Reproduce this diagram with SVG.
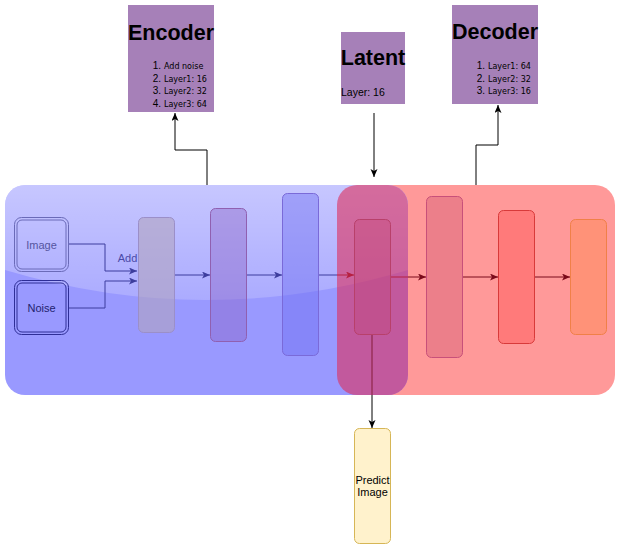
<svg xmlns="http://www.w3.org/2000/svg" width="622" height="550" viewBox="0 0 622 550">
<style>
  .title { font-family: "Liberation Sans", Arial, sans-serif; font-weight: bold; font-size: 21.5px; fill: #000; text-anchor: middle; }
  .num { font-family: "Liberation Sans", Arial, sans-serif; font-size: 10px; fill: #000; text-anchor: end; }
  .item { font-family: "DejaVu Sans", Verdana, sans-serif; font-size: 8px; fill: #000; }
  .lbl { font-family: "Liberation Sans", Arial, sans-serif; font-size: 11px; text-anchor: middle; }
  .topbox { fill: #a680b8; }
  .enc { stroke: #3d3d9e; stroke-width: 1; fill: none; }
  .dec { stroke: #7a0a1a; stroke-width: 1; fill: none; }
  .blk { stroke: #000; stroke-width: 1; fill: none; }
</style>
<defs>
  <marker id="ab" markerWidth="10" markerHeight="10" refX="8" refY="3.5" orient="auto" markerUnits="userSpaceOnUse">
    <path d="M0,0 L8,3.5 L0,7 L2,3.5 Z" fill="#000"/>
  </marker>
  <marker id="au" markerWidth="10" markerHeight="10" refX="8" refY="3.5" orient="auto" markerUnits="userSpaceOnUse">
    <path d="M0,0 L8,3.5 L0,7 L2,3.5 Z" fill="#3d3d9e"/>
  </marker>
  <marker id="ar" markerWidth="10" markerHeight="10" refX="8" refY="3.5" orient="auto" markerUnits="userSpaceOnUse">
    <path d="M0,0 L8,3.5 L0,7 L2,3.5 Z" fill="#7a0a1a"/>
  </marker>
  <clipPath id="blueClip">
    <rect x="5" y="185" width="403" height="210" rx="20"/>
  </clipPath>
  <linearGradient id="glass" x1="0" y1="0" x2="0" y2="1">
    <stop offset="0" stop-color="#fff" stop-opacity="0.45"/>
    <stop offset="1" stop-color="#fff" stop-opacity="0.18"/>
  </linearGradient>
</defs>

<g id="containers">
  <rect id="decoder-area" x="337" y="185" width="278" height="210" rx="20" fill="#ff9999"/>
  <rect id="encoder-area" x="5" y="185" width="403" height="210" rx="20" fill="#9999ff"/>
  <path d="M5,185 L408,185 L408,270 Q206,330 5,270 Z" fill="url(#glass)" clip-path="url(#blueClip)"/>
</g>

<g id="connectors">
  <polyline class="enc" points="69,244 105,244 105,271 137,271" marker-end="url(#au)"/>
  <polyline class="enc" points="69,308 105,308 105,281 137,281" marker-end="url(#au)"/>
  <line class="enc" x1="175" y1="275" x2="210" y2="275" marker-end="url(#au)"/>
  <line class="enc" x1="247" y1="275" x2="282" y2="275" marker-end="url(#au)"/>
  <line class="enc" x1="319" y1="275" x2="337" y2="275"/>
  <line class="dec" x1="337" y1="275" x2="354" y2="275" marker-end="url(#ar)"/>
  <line class="dec" x1="391" y1="277" x2="426" y2="277" marker-end="url(#ar)"/>
  <line class="dec" x1="463" y1="277" x2="498" y2="277" marker-end="url(#ar)"/>
  <line class="dec" x1="535" y1="277" x2="570" y2="277" marker-end="url(#ar)"/>
  <line class="blk" x1="372" y1="335" x2="372" y2="428" marker-end="url(#ab)"/>
  <polyline class="blk" points="207,185 207,150 175,150 175,113" marker-end="url(#ab)"/>
  <line class="blk" x1="374" y1="113" x2="374" y2="177" marker-end="url(#ab)"/>
  <polyline class="blk" points="476,185 476,145 498,145 498,105" marker-end="url(#ab)"/>
  <text x="127.5" y="262" class="lbl" fill="#4a4aa8">Add</text>
</g>

<rect id="latent-area" x="337" y="185" width="71" height="210" rx="20" fill="#de2e5c" fill-opacity="0.6"/>

<g id="image">
  <rect x="14.5" y="217.5" width="54" height="54" rx="7" fill="none" stroke="#6a6ab8"/>
  <rect x="17" y="220" width="49" height="49" rx="5" fill="none" stroke="#6a6ab8"/>
  <text x="41.5" y="249" class="lbl" fill="#5555a0">Image</text>
</g>
<g id="noise">
  <rect x="14.5" y="280.5" width="54" height="54" rx="7" fill="none" stroke="#2e2e96"/>
  <rect x="17" y="283" width="49" height="49" rx="5" fill="none" stroke="#2e2e96"/>
  <text x="41.5" y="312" class="lbl" fill="#22226e">Noise</text>
</g>

<g id="enc1"><rect x="138.5" y="217.5" width="36" height="115" rx="5" fill="#b0a4c0" fill-opacity="0.6" stroke="#9b8fc8"/></g>
<g id="enc2"><rect x="210.5" y="208.5" width="36" height="133" rx="5" fill="#8a5cc0" fill-opacity="0.38" stroke="#9060b0"/></g>
<g id="enc3"><rect x="282.5" y="193.5" width="36" height="162" rx="5" fill="#6a6af0" fill-opacity="0.4" stroke="#7a6ad8"/></g>
<g id="latent-block"><rect x="354.5" y="219.5" width="36" height="115" rx="5" fill="#c04070" fill-opacity="0.3" stroke="#b8406a"/></g>
<g id="dec1"><rect x="426.5" y="196.5" width="36" height="161" rx="5" fill="#ec7f8a" stroke="#c8507a"/></g>
<g id="dec2"><rect x="498.5" y="210.5" width="36" height="133" rx="5" fill="#ff7a7a" stroke="#d83a3a"/></g>
<g id="dec3"><rect x="570.5" y="219.5" width="36" height="115" rx="5" fill="#ff9278" stroke="#f08048"/></g>

<g id="predict">
  <rect x="354.5" y="428.5" width="36" height="115" rx="5" fill="#fff2cc" stroke="#d6b656"/>
  <text x="372.5" y="484" class="lbl" fill="#000">Predict</text>
  <text x="372.5" y="496" class="lbl" fill="#000">Image</text>
</g>

<g id="encoder-note">
  <rect class="topbox" x="128" y="5" width="86" height="107"/>
  <text x="171" y="39.5" class="title">Encoder</text>
  <text x="161" y="69" class="num">1.</text><text x="164" y="69" class="item">Add noise</text>
  <text x="161" y="81.5" class="num">2.</text><text x="164" y="81.5" class="item">Layer1: 16</text>
  <text x="161" y="94" class="num">3.</text><text x="164" y="94" class="item">Layer2: 32</text>
  <text x="161" y="106.5" class="num">4.</text><text x="164" y="106.5" class="item">Layer3: 64</text>
</g>
<g id="latent-note">
  <rect class="topbox" x="341" y="32" width="64" height="72"/>
  <text x="373" y="65" class="title">Latent</text>
  <text x="341" y="96" font-family="'Liberation Sans', Arial, sans-serif" font-size="10.5" fill="#000">Layer: 16</text>
</g>
<g id="decoder-note">
  <rect class="topbox" x="452" y="5" width="86" height="99"/>
  <text x="495" y="39" class="title">Decoder</text>
  <text x="485" y="69" class="num">1.</text><text x="488" y="69" class="item">Layer1: 64</text>
  <text x="485" y="81.5" class="num">2.</text><text x="488" y="81.5" class="item">Layer2: 32</text>
  <text x="485" y="94" class="num">3.</text><text x="488" y="94" class="item">Layer3: 16</text>
</g>
</svg>
